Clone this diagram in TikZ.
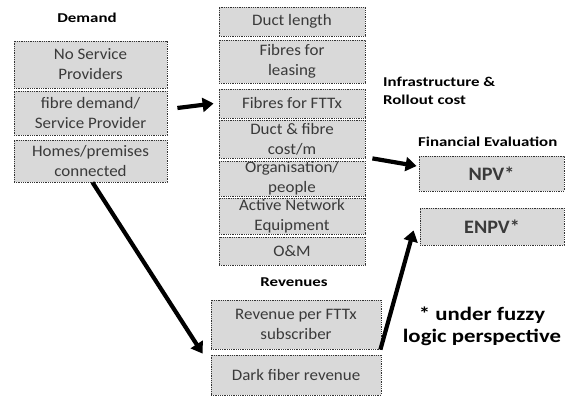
\documentclass[tikz,border=0pt]{standalone}
\usepackage{fontspec}
\setmainfont{Carlito}
\newfontfamily\boxfont{Carlito}[FakeStretch=1.06]
\newfontfamily\labfont{Carlito}[FakeStretch=1.25]
\newfontfamily\notefont{Carlito}[FakeStretch=1.2]
\usetikzlibrary{arrows.meta,calc}
\definecolor{boxfill}{HTML}{D9D9D9}
\definecolor{boxline}{HTML}{333333}
\definecolor{boxtext}{HTML}{3A3A3A}
\tikzset{
  cbox/.style={draw=boxline, densely dotted, line width=0.8pt, fill=boxfill,
    text=boxtext, inner sep=0pt, align=center,
    font=\boxfont\fontsize{16}{20}\selectfont},
  lab/.style={inner sep=0pt, font=\labfont\bfseries\fontsize{13.5}{18}\selectfont},
  bigarrow/.style={line width=4.2pt, -{Triangle[length=11pt,width=14pt]}}
}
\begin{document}
\begin{tikzpicture}[x=1pt,y=-1pt]
\useasboundingbox (0,0) rectangle (565,396);
% left column
\node[cbox, minimum width=153pt, minimum height=47pt] (nsp) at (90.5,64.5) {No Service\\Providers};
\node[cbox, minimum width=153pt, minimum height=44pt] (fdsp) at (90.5,113) {fibre demand/\\Service Provider};
\node[cbox, minimum width=153pt, minimum height=42pt] (homes) at (90.5,161) {Homes/premises\\connected};
\node[lab] (demand) at (87,18) {Demand};
% middle column
\node[cbox, minimum width=146pt, minimum height=29pt] (duct) at (292,21.5) {Duct length};
\node[cbox, minimum width=146pt, minimum height=43pt] (fleas) at (292,61.5) {Fibres for\\leasing};
\node[cbox, minimum width=146pt, minimum height=29pt] (ffttx) at (292,103.5) {Fibres for FTTx};
\node[cbox, minimum width=146pt, minimum height=38pt] (dfc) at (292,139) {Duct \& fibre\\cost/m};
\node[cbox, minimum width=146pt, minimum height=35pt] (org) at (292,178.5) {Organisation/\\people};
\node[cbox, minimum width=146pt, minimum height=36pt] (ane) at (292,216) {Active Network\\Equipment};
\node[cbox, minimum width=146pt, minimum height=28pt] (om) at (292,251) {O\&M};
\node[lab, align=left, anchor=west] (infra) at (383,91) {Infrastructure \&\\Rollout cost};
% revenues
\node[lab] (revenues) at (294,282) {Revenues};
\node[cbox, minimum width=170pt, minimum height=49pt] (rev) at (296,324.5) {Revenue per FTTx\\subscriber};
\node[cbox, minimum width=170pt, minimum height=40pt] (dark) at (296,375) {Dark fiber revenue};
% financial evaluation
\node[lab, anchor=west] (fin) at (418,142) {Financial Evaluation};
\node[cbox, minimum width=145pt, minimum height=35pt, font=\boxfont\bfseries\fontsize{19}{22}\selectfont] (npv) at (491.5,173.5) {NPV*};
\node[cbox, minimum width=144pt, minimum height=37pt, font=\boxfont\bfseries\fontsize{19}{22}\selectfont] (enpv) at (492,226.5) {ENPV*};
% note
\node[inner sep=0pt, align=center, font=\notefont\bfseries\fontsize{19}{22}\selectfont] (note) at (482,326) {* under fuzzy\\logic perspective};
% arrows
\draw[bigarrow] ($(fdsp.east)+(10,-5)$) -- ($(ffttx.west)+(-5,0)$);
\draw[bigarrow] ($(dfc.south east)+(7,0)$) -- ($(npv.west)+(-2,-7.5)$);
\draw[bigarrow] ($(homes.south)+(2,0)$) -- ($(dark.north west)+(-8,-1)$);
\draw[bigarrow] ($(dark.north east)+(-1,-5)$) -- ($(enpv.south west)+(-6,-15)$);
\end{tikzpicture}
\end{document}
